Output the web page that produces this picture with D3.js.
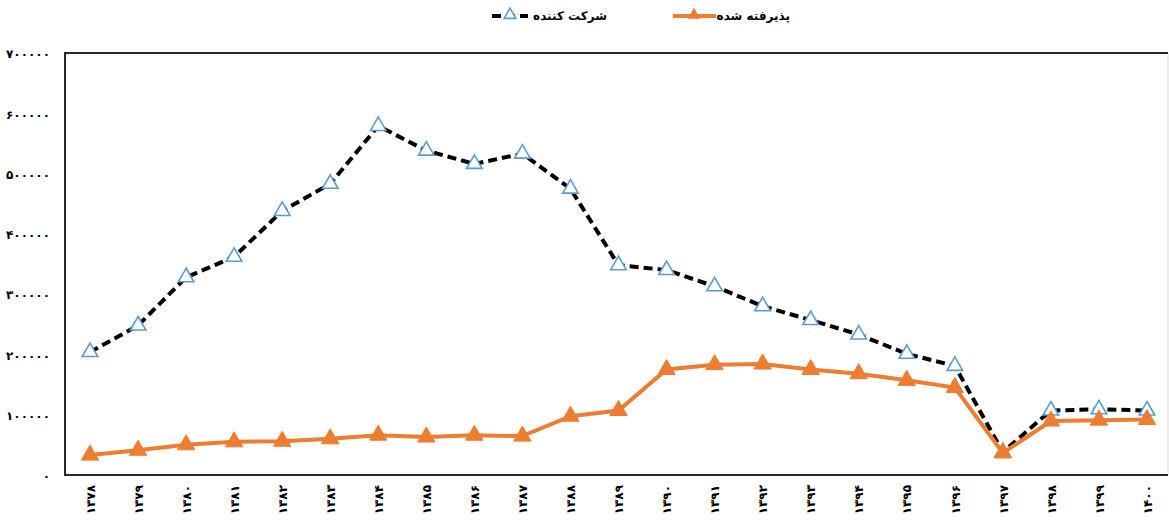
<!DOCTYPE html>
<html>
<head>
<meta charset="utf-8">
<script src="https://cdn.jsdelivr.net/npm/d3@7"></script>
<style>
  html, body { margin: 0; padding: 0; background: #fff; }
  svg { display: block; font-family: "DejaVu Sans", sans-serif; }
</style>
</head>
<body>
<svg id="chart" width="1169" height="526"></svg>
<script>
// ---- data ----
const categories = ["۱۳۷۸","۱۳۷۹","۱۳۸۰","۱۳۸۱","۱۳۸۲","۱۳۸۳","۱۳۸۴","۱۳۸۵","۱۳۸۶","۱۳۸۷","۱۳۸۸","۱۳۸۹","۱۳۹۰","۱۳۹۱","۱۳۹۲","۱۳۹۳","۱۳۹۴","۱۳۹۵","۱۳۹۶","۱۳۹۷","۱۳۹۸","۱۳۹۹","۱۴۰۰"];
const participants = [204000, 248000, 328000, 362000, 438000, 483000, 579000, 538000, 516000, 533000, 475000, 348000, 340000, 313000, 280000, 257000, 233000, 201000, 181000, 38000, 107000, 109000, 107000];
const accepted = [33000, 41000, 50000, 55000, 56000, 60000, 66000, 63000, 66000, 64500, 97500, 107000, 175000, 183000, 184000, 175000, 168000, 157000, 145000, 36500, 89500, 91000, 92000];
const yTickValues = [0, 100000, 200000, 300000, 400000, 500000, 600000, 700000];
const yTickLabels = ["۰","۱۰۰۰۰۰","۲۰۰۰۰۰","۳۰۰۰۰۰","۴۰۰۰۰۰","۵۰۰۰۰۰","۶۰۰۰۰۰","۷۰۰۰۰۰"];
const seriesNames = ["شرکت کننده", "پذیرفته شده"];

// ---- layout ----
const svg = d3.select("#chart");
const plot = { left: 65, right: 1168, top: 53, bottom: 475 };
const x = d3.scalePoint().domain(categories).range([66, 1171]).padding(0.5);
const y = d3.scaleLinear().domain([0, 700000]).range([plot.bottom, plot.top]);

const orange = "#ED7D31", blue = "#5B9BD5";

// frame
svg.append("line").attr("x1", plot.right).attr("x2", plot.right).attr("y1", plot.top).attr("y2", plot.bottom)
  .attr("stroke", "#d9d9d9").attr("stroke-width", 1);
svg.append("path")
  .attr("d", `M${plot.right},${plot.top}H${plot.left}V${plot.bottom}H${plot.right}`)
  .attr("fill", "none").attr("stroke", "#262626").attr("stroke-width", 2);

// y axis labels
const yAxis = d3.axisLeft(y).tickValues(yTickValues).tickSize(0).tickPadding(0)
  .tickFormat((d, i) => yTickLabels[i]);
const gy = svg.append("g").attr("transform", `translate(${50},0)`).call(yAxis);
gy.select(".domain").remove();
gy.selectAll("text").attr("font-size", 12).attr("font-weight", "bold").attr("fill", "#000")
  .attr("font-family", "DejaVu Sans").attr("dy", "0.4em");

// x axis labels (rotated)
const xAxis = d3.axisBottom(x).tickSize(0).tickPadding(0);
const gx = svg.append("g").attr("transform", `translate(0,${plot.bottom})`).call(xAxis);
gx.select(".domain").remove();
gx.selectAll("text")
  .attr("font-size", 12).attr("font-weight", "bold").attr("fill", "#000").attr("font-family", "DejaVu Sans")
  .attr("transform", "rotate(-90)")
  .attr("text-anchor", "end")
  .attr("x", -10).attr("y", 0).attr("dy", "0.35em");

const tri = d3.symbol().type(d3.symbolTriangle);

// series 1: participants (black dashed, hollow blue triangles)
const line = d3.line().x((d, i) => x(categories[i])).y(d => y(d));
svg.append("path").datum(participants).attr("d", line)
  .attr("fill", "none").attr("stroke", "#000").attr("stroke-width", 4)
  .attr("stroke-dasharray", "9,5");
svg.append("g").selectAll("path").data(participants).join("path")
  .attr("d", tri.size(105)())
  .attr("transform", (d, i) => `translate(${x(categories[i])},${y(d)})`)
  .attr("fill", "#fff").attr("stroke", blue).attr("stroke-width", 1.6);

// series 2: accepted (orange solid, filled triangles)
svg.append("path").datum(accepted).attr("d", line)
  .attr("fill", "none").attr("stroke", orange).attr("stroke-width", 4);
svg.append("g").selectAll("path").data(accepted).join("path")
  .attr("d", tri.size(130)())
  .attr("transform", (d, i) => `translate(${x(categories[i])},${y(d)})`)
  .attr("fill", orange).attr("stroke", orange).attr("stroke-width", 1);

// legend
const lg = svg.append("g");
lg.append("line").attr("x1", 492).attr("x2", 528).attr("y1", 16).attr("y2", 16)
  .attr("stroke", "#000").attr("stroke-width", 4).attr("stroke-dasharray", "9,5");
lg.append("path").attr("d", tri.size(60)()).attr("transform", "translate(510,15)")
  .attr("fill", "#fff").attr("stroke", blue).attr("stroke-width", 1.6);
lg.append("text").attr("x", 607).attr("y", 16).attr("dy", "0.35em").attr("text-anchor", "end")
  .attr("font-size", 12).attr("font-weight", "bold").text(seriesNames[0]);

lg.append("line").attr("x1", 673).attr("x2", 716).attr("y1", 16).attr("y2", 16)
  .attr("stroke", orange).attr("stroke-width", 4);
lg.append("path").attr("d", tri.size(70)()).attr("transform", "translate(694,15)")
  .attr("fill", orange);
lg.append("text").attr("x", 790).attr("y", 16).attr("dy", "0.35em").attr("text-anchor", "end")
  .attr("font-size", 12).attr("font-weight", "bold").text(seriesNames[1]);
</script>
</body>
</html>
